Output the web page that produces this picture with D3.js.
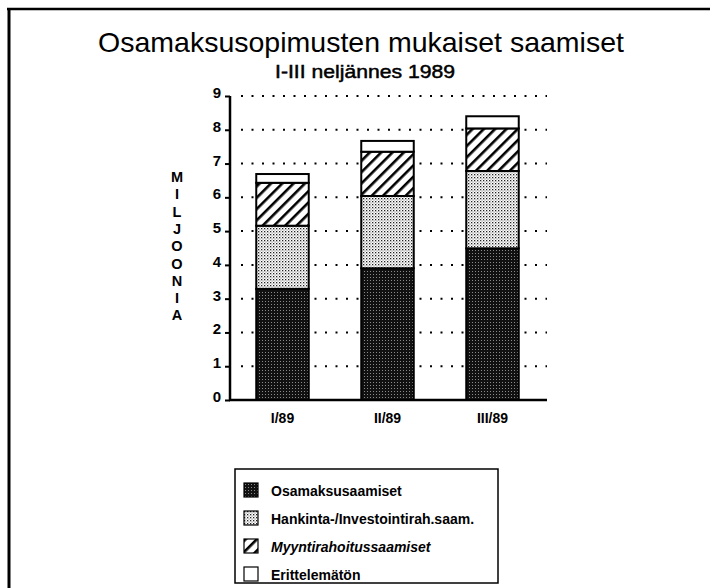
<!DOCTYPE html>
<html>
<head>
<meta charset="utf-8">
<script src="https://cdn.jsdelivr.net/npm/d3@7"></script>
<style>
  body { margin: 0; background: #fff; }
  svg { display: block; font-family: "Liberation Sans", Arial, sans-serif; }
</style>
</head>
<body>
<svg width="715" height="588"></svg>
<script>
var width = 715;
var height = 588;

// data, millions
var quarters = ["I/89", "II/89", "III/89"];
var series = ["Osamaksusaamiset", "Hankinta-/Investointirah.saam.", "Myyntirahoitussaamiset", "Erittelemätön"];
var osamaksu = [3.29, 3.90, 4.49];
var hankinta = [1.87, 2.14, 2.29];
var myynti = [1.27, 1.31, 1.26];
var erittelematon = [0.26, 0.32, 0.36];
var yTicks = [0, 1, 2, 3, 4, 5, 6, 7, 8, 9];
var yLabel = "MILJOONIA";

var svg = d3.select("svg");
var defs = svg.append("defs");

// dark dotted fill
var pDark = defs.append("pattern").attr("id", "pat0")
    .attr("width", 3).attr("height", 3).attr("patternUnits", "userSpaceOnUse");
pDark.append("rect").attr("width", 3).attr("height", 3).attr("fill", "#111");
pDark.append("rect").attr("x", 1).attr("y", 1).attr("width", 1).attr("height", 1).attr("fill", "#8a8a8a");

// light stipple
var pLight = defs.append("pattern").attr("id", "pat1")
    .attr("width", 3).attr("height", 3).attr("patternUnits", "userSpaceOnUse");
pLight.append("rect").attr("width", 3).attr("height", 3).attr("fill", "#fff");
pLight.append("rect").attr("x", 0).attr("y", 0).attr("width", 1.3).attr("height", 1.3).attr("fill", "#222");
pLight.append("rect").attr("x", 1.5).attr("y", 1.5).attr("width", 1.1).attr("height", 1.1).attr("fill", "#777");

// diagonal hatch
var pHatch = defs.append("pattern").attr("id", "pat2")
    .attr("width", 8).attr("height", 8).attr("patternUnits", "userSpaceOnUse")
    .attr("patternTransform", "rotate(45)");
pHatch.append("rect").attr("width", 8).attr("height", 8).attr("fill", "#fff");
pHatch.append("rect").attr("x", 0).attr("width", 2.6).attr("height", 8).attr("fill", "#000");

var fills = ["url(#pat0)", "url(#pat1)", "url(#pat2)", "#fff"];

// frame (top + left only)
svg.append("line").attr("x1", 7).attr("x2", 710).attr("y1", 9).attr("y2", 9)
    .attr("stroke", "#000").attr("stroke-width", 2.5);
svg.append("line").attr("x1", 9).attr("x2", 9).attr("y1", 8).attr("y2", height)
    .attr("stroke", "#000").attr("stroke-width", 3);

// titles
svg.append("text").attr("x", 361).attr("y", 52).attr("text-anchor", "middle")
    .attr("font-size", 28.5).text("Osamaksusopimusten mukaiset saamiset");
svg.append("text").attr("x", 365).attr("y", 78).attr("text-anchor", "middle")
    .attr("font-size", 19).attr("stroke", "#000").attr("stroke-width", 0.5)
    .attr("textLength", 180).attr("lengthAdjust", "spacingAndGlyphs")
    .text("I-III neljännes 1989");

var y = d3.scaleLinear().domain([0, 9]).range([400, 96]);
var x = d3.scaleBand().domain(quarters).range([230, 545])
    .paddingInner(0.5).paddingOuter(0.25);

// dotted grid
svg.append("g").selectAll("line")
    .data(yTicks.filter(function(d) { return d > 0; }))
  .enter().append("line")
    .attr("x1", 241).attr("x2", 547)
    .attr("y1", function(d) { return y(d); })
    .attr("y2", function(d) { return y(d); })
    .attr("stroke", "#000").attr("stroke-width", 2)
    .attr("stroke-dasharray", "2,8.5");

// y axis
var yAxis = svg.append("g").attr("transform", "translate(230,0)")
    .call(d3.axisLeft(y).tickValues(yTicks).tickSize(5).tickPadding(4));
yAxis.select(".domain").attr("stroke-width", 2.5).attr("d", "M0," + y(9) + "V" + y(0));
yAxis.selectAll(".tick line").attr("stroke-width", 2);
yAxis.selectAll("text").attr("font-size", 15).attr("font-weight", "bold")
    .attr("font-family", "Liberation Sans, Arial, sans-serif").attr("dy", "0.1em");

// x axis line
svg.append("line").attr("x1", 229).attr("x2", 547).attr("y1", y(0)).attr("y2", y(0))
    .attr("stroke", "#000").attr("stroke-width", 2.5);

svg.append("g").selectAll("text").data(quarters)
  .enter().append("text")
    .attr("x", function(d) { return x(d) + x.bandwidth() / 2; })
    .attr("y", 423).attr("text-anchor", "middle")
    .attr("font-size", 14).attr("font-weight", "bold")
    .text(function(d) { return d; });

// stacked bars
var rows = quarters.map(function(q, i) {
    return { q: q, s0: osamaksu[i], s1: hankinta[i], s2: myynti[i], s3: erittelematon[i] };
});
var stack = d3.stack().keys(["s0", "s1", "s2", "s3"]);
var layers = stack(rows);

svg.append("g").selectAll("g").data(layers)
  .enter().append("g")
    .attr("fill", function(d, i) { return fills[i]; })
  .selectAll("rect").data(function(d) { return d; })
  .enter().append("rect")
    .attr("x", function(d) { return x(d.data.q); })
    .attr("width", x.bandwidth())
    .attr("y", function(d) { return y(d[1]); })
    .attr("height", function(d) { return y(d[0]) - y(d[1]); })
    .attr("stroke", "#000").attr("stroke-width", 2);

// vertical y label
svg.append("g").selectAll("text").data(yLabel.split(""))
  .enter().append("text")
    .attr("x", 177)
    .attr("y", function(d, i) { return 182 + i * 17.3; })
    .attr("text-anchor", "middle")
    .attr("font-size", 14.5).attr("font-weight", "bold")
    .text(function(d) { return d; });

// legend
var legend = svg.append("g");
legend.append("rect").attr("x", 235).attr("y", 469).attr("width", 263).attr("height", 114)
    .attr("fill", "none").attr("stroke", "#000").attr("stroke-width", 1.5);

var item = legend.selectAll(".item").data(series)
  .enter().append("g").attr("class", "item")
    .attr("transform", function(d, i) { return "translate(244," + (483 + i * 28) + ")"; });

item.append("rect").attr("width", 14).attr("height", 14)
    .attr("fill", function(d, i) { return fills[i]; })
    .attr("stroke", "#000").attr("stroke-width", 1.2);

item.append("text").attr("x", 27).attr("y", 12.5)
    .attr("font-size", 14).attr("font-weight", "bold")
    .attr("font-style", function(d, i) { return i == 2 ? "italic" : "normal"; })
    .text(function(d) { return d; });
</script>
</body>
</html>
